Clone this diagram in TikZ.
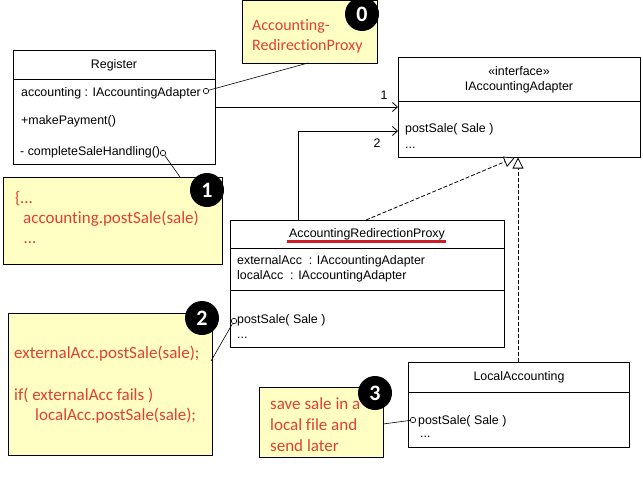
\documentclass[tikz,border=0pt]{standalone}
\usepackage{fontspec}
\setmainfont{Liberation Sans}
\newfontfamily\notefont[Ligatures=NoCommon]{Carlito}
\usetikzlibrary{arrows.meta}
\definecolor{noteyellow}{RGB}{255,255,196}
\definecolor{notered}{RGB}{228,62,52}
\definecolor{ulred}{RGB}{205,30,40}
\tikzset{
 umlbox/.style={draw, line width=0.8pt, fill=white, anchor=north west, inner sep=0},
 umltext/.style={font=\fontsize{12.4}{14}\selectfont, inner sep=0},
 notebox/.style={draw, line width=0.8pt, fill=noteyellow, anchor=north west, inner sep=0},
 notetext/.style={font=\notefont\fontsize{17}{20}\selectfont, text=notered, inner sep=0, anchor=base west},
 smallnotetext/.style={notetext, font=\notefont\fontsize{16}{20}\selectfont},
 badge/.style={circle, fill=black, text=white, font=\notefont\bfseries\fontsize{22}{22}\selectfont, minimum size=34pt, inner sep=0},
 pin/.style={circle, draw, line width=0.6pt, fill=white, inner sep=0, minimum size=5.5pt},
 link/.style={line width=0.6pt},
 assoc/.style={line width=0.8pt, -{Straight Barb[length=5pt,width=9pt]}},
 realize/.style={line width=0.8pt, dash pattern=on 4pt off 2pt, -{Triangle[open,length=11pt,width=11pt,fill=white]}},
}
\begin{document}
\begin{tikzpicture}[x=1pt,y=-1pt]
\useasboundingbox[fill=white] (0,0) rectangle (643,493);

% ---------- Register ----------
\node[umlbox, minimum width=202pt, minimum height=114pt] (reg) at (13,50) {};
\draw[line width=0.8pt] (13,79) -- (215,79);
\node[umltext, anchor=base] (regname) at (114,68) {Register};
\node[umltext, anchor=base west] (regatt) at (21,96) {accounting : IAccountingAdapter};
\node[umltext, anchor=base west] (regm1) at (21,124) {+makePayment()};
\node[umltext, anchor=base west] (regm2) at (20,155) {- completeSaleHandling()};

% ---------- IAccountingAdapter ----------
\node[umlbox, minimum width=242pt, minimum height=100pt] (ia) at (398,57) {};
\draw[line width=0.8pt] (398,101) -- (640,101);
\node[umltext, anchor=base] (iast) at (519,75) {«interface»};
\node[umltext, anchor=base] (ianame) at (519,90) {IAccountingAdapter};
\node[umltext, anchor=base west] (iam1) at (405,132) {postSale( Sale )};
\node[umltext, anchor=base west] (iam2) at (405,148) {...};

% ---------- AccountingRedirectionProxy ----------
\node[umlbox, minimum width=274pt, minimum height=127pt] (proxy) at (230,220) {};
\draw[line width=0.8pt] (230,248) -- (504,248);
\draw[line width=0.8pt] (230,290) -- (504,290);
\node[umltext, anchor=base] (pxname) at (367,237) {AccountingRedirectionProxy};
\draw[ulred, line width=2.4pt] (287,241.5) -- (446,241.5);
\node[umltext, anchor=base west] (pxa1) at (237,264) {externalAcc\ \ : IAccountingAdapter};
\node[umltext, anchor=base west] (pxa2) at (237,279) {localAcc\ \ : IAccountingAdapter};
\node[umltext, anchor=base west] (pxm1) at (237,323) {postSale( Sale )};
\node[umltext, anchor=base west] (pxm2) at (237,338) {...};

% ---------- LocalAccounting ----------
\node[umlbox, minimum width=221pt, minimum height=85pt] (local) at (408,362) {};
\draw[line width=0.8pt] (408,392) -- (629,392);
\node[umltext, anchor=base] (lcname) at (519,380) {LocalAccounting};
\node[umltext, anchor=base west] (lcm1) at (418,424) {postSale( Sale )};
\node[umltext, anchor=base west] (lcm2) at (420,437) {...};

% ---------- associations ----------
\coordinate (a1s) at (215,107);
\coordinate (a1e) at (398,107);
\draw[assoc] (a1s) -- (a1e);
\node[umltext] (lab1) at (384,95) {1};
\coordinate (a2s) at (298,220);
\coordinate (a2e) at (398,131);
\draw[assoc] (a2s) |- (a2e);
\node[umltext] (lab2) at (377,143) {2};

% ---------- realizations ----------
\coordinate (r1s) at (366,220);
\coordinate (r1e) at (515,157.5);
\draw[realize] (r1s) -- (r1e);
\coordinate (r2s) at (518,362);
\coordinate (r2e) at (518,157.5);
\draw[realize] (r2s) -- (r2e);

% ---------- notes ----------
\node[notebox, minimum width=135pt, minimum height=63pt] (n0) at (242,0) {};
\node[smallnotetext] (n0a) at (252,30) {Accounting-};
\node[smallnotetext] (n0b) at (252,50) {RedirectionProxy};

\node[notebox, minimum width=219pt, minimum height=87pt] (n1) at (3,177) {};
\node[notetext] (n1a) at (15,203) {\{…};
\node[notetext] (n1b) at (23,223) {accounting.postSale(sale)};
\node[notetext] (n1c) at (24,243) {…};

\node[notebox, minimum width=204pt, minimum height=142pt] (n2) at (8,313) {};
\node[notetext] (n2a) at (14,358) {externalAcc.postSale(sale);};
\node[notetext] (n2b) at (14,400) {if( externalAcc fails )};
\node[notetext] (n2c) at (35,420) {localAcc.postSale(sale);};

\node[notebox, minimum width=124pt, minimum height=70pt] (n3) at (259,387) {};
\node[notetext] (n3a) at (270,409) {save sale in a};
\node[notetext] (n3b) at (270,430) {local file and};
\node[notetext] (n3c) at (270,451) {send later};

% ---------- pins and note links ----------
\node[pin] (p0) at (206,91) {};
\node[pin] (p1) at (163,153) {};
\node[pin] (p2) at (234,321) {};
\node[pin] (p3) at (413,420) {};
\coordinate (c0) at (308,63);
\coordinate (c1) at (180,177);
\coordinate (c2) at (211,361);
\coordinate (c3) at (383,424);
\draw[link] (p0) -- (c0);
\draw[link] (p1) -- (c1);
\draw[link] (p2) -- (c2);
\draw[link] (p3) -- (c3);

% ---------- badges ----------
\node[badge] (b0) at (362,14) {0};
\node[badge] (b1) at (207,190) {1};
\node[badge] (b2) at (202,318) {2};
\node[badge] (b3) at (375,393) {3};
\end{tikzpicture}
\end{document}
